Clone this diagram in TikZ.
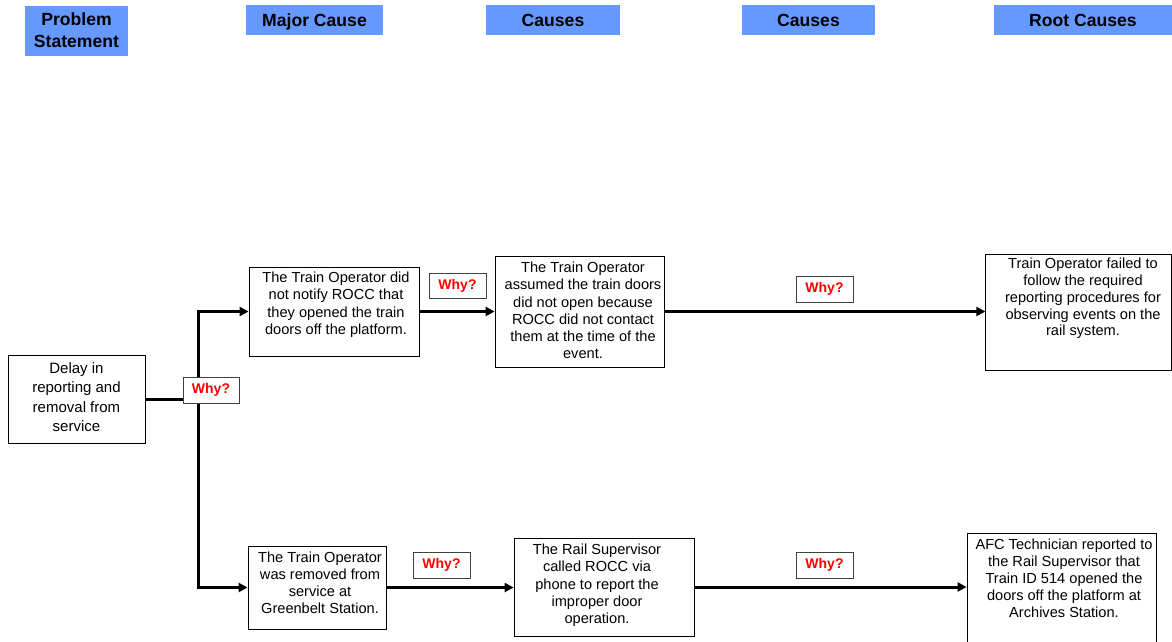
\documentclass[tikz,border=0pt]{standalone}
\usepackage{fontspec}
\setmainfont{Liberation Sans}
\usetikzlibrary{arrows.meta}
\definecolor{hdrblue}{HTML}{6699FF}
\definecolor{whyred}{HTML}{FF0000}
\begin{document}
\begin{tikzpicture}[x=1pt,y=-1pt,
  hdr/.style={fill=hdrblue, draw=none, font=\bfseries\fontsize{17.6}{22}\selectfont, align=center, inner sep=0pt},
  box/.style={draw=black, line width=0.8pt, inner sep=0pt},
  why/.style={draw=black!75, fill=white, line width=0.8pt, text=whyred, font=\bfseries\fontsize{14}{16}\selectfont, inner sep=0pt},
  txt/.style={align=center, inner sep=0pt, anchor=north, font=\fontsize{14.6}{17.2}\selectfont},
  conn/.style={line width=3pt},
  arr/.style={conn, -{Triangle[length=9pt,width=9pt]}}
]
\useasboundingbox (0,0) rectangle (1172,641);
\clip (0,0) rectangle (1172,641);
\fill[white] (0,0) rectangle (1172,641);

% headers
\node[hdr, minimum width=103pt, minimum height=50pt] (h1) at (76.5,30.5) {Problem\\Statement};
\node[hdr, minimum width=137pt, minimum height=30pt, text height=12.7pt, text depth=0pt] (h2) at (314.5,20) {Major Cause};
\node[hdr, minimum width=134pt, minimum height=30pt, text height=12.7pt, text depth=0pt] (h3) at (553,20) {Causes};
\node[hdr, minimum width=133pt, minimum height=30pt, text height=12.7pt, text depth=0pt] (h4) at (808.5,20) {Causes};
\node[hdr, minimum width=178pt, minimum height=30pt, text height=12.7pt, text depth=0pt] (h5) at (1083,20) {Root Causes};

% boxes
\node[box, minimum width=137pt, minimum height=88pt] (d) at (76.5,399) {};
\node[box, minimum width=170pt, minimum height=89pt] (a1) at (334,311.5) {};
\node[box, minimum width=169pt, minimum height=111pt] (a2) at (579.5,311.5) {};
\node[box, minimum width=185.5pt, minimum height=116pt] (a3) at (1078.5,312) {};
\node[box, minimum width=138pt, minimum height=83pt] (b1) at (317,587.5) {};
\node[box, minimum width=180pt, minimum height=98pt] (b2) at (604,587) {};
\node[box, minimum width=189pt, minimum height=127pt] (b3) at (1061.5,596.5) {};

% texts
\node[txt, font=\fontsize{15}{19.5}\selectfont] (dt) at (76.5,362) {Delay in\\reporting and\\removal from\\service};
\node[txt] (a1t) at (336,272) {The Train Operator did\\not notify ROCC that\\they opened the train\\doors off the platform.};
\node[txt] (a2t) at (583,262) {The Train Operator\\assumed the train doors\\did not open because\\ROCC did not contact\\them at the time of the\\event.};
\node[txt, font=\fontsize{14.6}{16.8}\selectfont] (a3t) at (1083,258) {Train Operator failed to\\follow the required\\reporting procedures for\\observing events on the\\rail system.};
\node[txt, font=\fontsize{14.6}{17}\selectfont] (b1t) at (320,552) {The Train Operator\\was removed from\\service at\\Greenbelt Station.};
\node[txt] (b2t) at (597,544) {The Rail Supervisor\\called ROCC via\\phone to report the\\improper door\\operation.};
\node[txt, font=\fontsize{14.6}{17}\selectfont] (b3t) at (1064,539) {AFC Technician reported to\\the Rail Supervisor that\\Train ID 514 opened the\\doors off the platform at\\Archives Station.};

% connectors
\coordinate (j) at (198,399);
\draw[conn] (d.east) -- (j);
\draw[arr] (j) |- (a1.west);
\draw[arr] (j) |- (b1.west);
\draw[arr] (a1.east) -- (a2.west);
\draw[arr] (a2.east) -- (a2.east -| a3.west);
\draw[arr] (b1.east) -- (b1.east -| b2.west);
\draw[arr] (b2.east) -- (b2.east -| b3.west);

% why boxes
\node[why, minimum width=56pt, minimum height=26pt] (w0) at (211,390) {Why?};
\node[why, minimum width=57pt, minimum height=25pt] (wa1) at (457.5,285.5) {Why?};
\node[why, minimum width=57pt, minimum height=26pt] (wa2) at (824.5,289) {Why?};
\node[why, minimum width=57pt, minimum height=26pt] (wb1) at (441.5,565) {Why?};
\node[why, minimum width=57pt, minimum height=26pt] (wb2) at (824.5,565) {Why?};
\end{tikzpicture}
\end{document}
